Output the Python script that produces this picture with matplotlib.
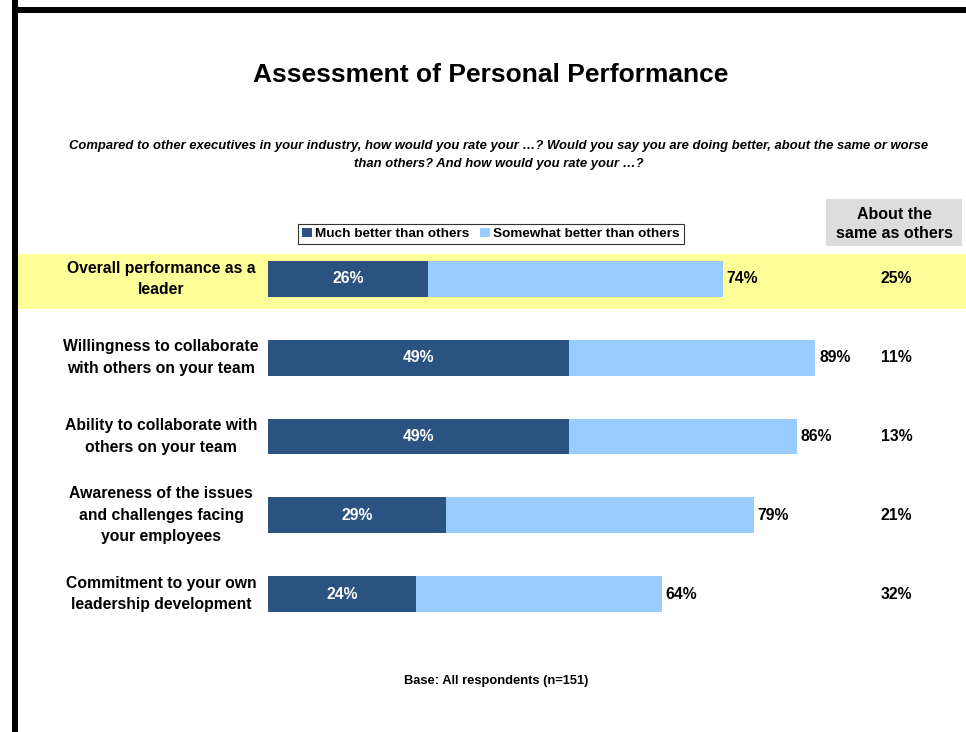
import matplotlib
matplotlib.use("Agg")
import matplotlib.pyplot as plt
from matplotlib.patches import Rectangle

plt.rcParams['font.family'] = ['Liberation Sans', 'DejaVu Sans']

categories = [
    "Overall performance as a\nleader",
    "Willingness to collaborate\nwith others on your team",
    "Ability to collaborate with\nothers on your team",
    "Awareness of the issues\nand challenges facing\nyour employees",
    "Commitment to your own\nleadership development",
]
much_better = [26, 49, 49, 29, 24]
better_total = [74, 89, 86, 79, 64]
about_same = [25, 11, 13, 21, 32]

DARK = "#2a5381"
LIGHT = "#99ccff"
YELLOW = "#ffff99"
GREY = "#dddddd"

W, H = 966, 732
fig = plt.figure(figsize=(W / 100, H / 100), dpi=100)
fig.patch.set_facecolor("white")


def fx(px):
    return px / W


def fy(py):
    return 1 - py / H


# frame lines along the top and left edges
fig.add_artist(Rectangle((fx(12), fy(732)), fx(6), 732 / H, transform=fig.transFigure,
                         color="black", lw=0, zorder=5))
fig.add_artist(Rectangle((fx(12), fy(13)), fx(954), 6 / H, transform=fig.transFigure,
                         color="black", lw=0, zorder=5))

# highlight band behind the first row
fig.add_artist(Rectangle((fx(18), fy(309)), fx(948), 55 / H, transform=fig.transFigure,
                         color=YELLOW, lw=0, zorder=0))

# header box for the right column
fig.add_artist(Rectangle((fx(826), fy(246)), fx(136), 47 / H, transform=fig.transFigure,
                         color=GREY, lw=0, zorder=0))
fig.text(fx(894), fy(224), "About the\nsame as others", ha="center", va="center",
         fontsize=11.5, fontweight="bold", linespacing=1.35)

fig.text(fx(491), fy(75), "Assessment of Personal Performance", ha="center", va="center",
         fontsize=19, fontweight="bold")
fig.text(fx(499), fy(155),
         "Compared to other executives in your industry, how would you rate your \u2026? "
         "Would you say you are doing better, about the same or worse\n"
         "than others? And how would you rate your \u2026?",
         ha="center", va="center", fontsize=9.4, fontweight="bold", style="italic",
         linespacing=1.6)
fig.text(fx(496), fy(681), "Base: All respondents (n=151)", ha="center", va="center",
         fontsize=9.3, fontweight="bold")

# bar area: x from 0% at px 268 to 100% at px 883
ax = fig.add_axes([fx(268), fy(633.4), fx(615), 393.8 / H])
ax.set_facecolor("none")
ax.set_xlim(0, 100)
ax.set_ylim(len(categories) - 0.5, -0.5)
ax.axis("off")

y = list(range(len(categories)))
rest = [t - m for t, m in zip(better_total, much_better)]
ax.barh(y, much_better, height=0.457, color=DARK, label="Much better than others")
ax.barh(y, rest, left=much_better, height=0.457, color=LIGHT,
        label="Somewhat better than others")

for i in y:
    ax.text(much_better[i] / 2, i, f"{much_better[i]}%", ha="center", va="center",
            color="white", fontsize=11.3, fontweight="bold")
    ax.text(better_total[i] + 0.6, i, f"{better_total[i]}%", ha="left", va="center",
            color="black", fontsize=11.3, fontweight="bold")
    ax.text(102.2, i, f"{about_same[i]}%", ha="center", va="center",
            color="black", fontsize=11.3, fontweight="bold", clip_on=False)
    ax.text(-17.4, i, categories[i], ha="center", va="center", color="black",
            fontsize=11.3, fontweight="bold", linespacing=1.55, clip_on=False)

leg = fig.legend(loc="center", bbox_to_anchor=(fx(491), fy(234)), ncol=2, frameon=True,
                 fancybox=False, edgecolor="black",
                 prop={"weight": "bold", "size": 9.7},
                 handlelength=0.7, handleheight=0.7, handletextpad=0.25,
                 columnspacing=0.8, borderpad=0.3)
leg.get_frame().set_linewidth(0.8)

fig.savefig("out.png", dpi=100)
